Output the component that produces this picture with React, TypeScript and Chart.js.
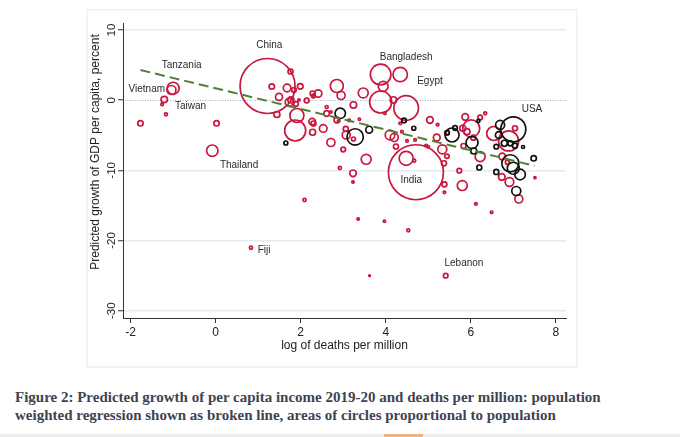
import React, { useEffect, useRef } from "react";
import { Chart, registerables } from "chart.js";

Chart.register(...registerables);

const xTicks = [-2, 0, 2, 4, 6, 8];
const yTicks = [-30, -20, -10, 0, 10];

const xTitle = "log of deaths per million";
const yTitle = "Predicted growth of GDP per capita, percent";
const caption1 = "Figure 2: Predicted growth of per capita income 2019-20 and deaths per million: population";
const caption2 = "weighted regression shown as broken line, areas of circles proportional to population";

// red circles: log deaths per million, predicted growth, population (millions)
const redX = [
  1.22, -1.0, -1.04, -1.21, -1.26, -1.17, -1.77, 0.02, -0.08, 1.32,
  1.76, 1.49, 1.68, 1.99, 1.84, 1.73, 1.77, 1.89, 1.44, 1.91,
  1.87, 2.14, 2.28, 2.41, 2.3, 2.27, 2.3, 2.28, 2.53, 2.71,
  2.61, 2.61, 2.85, 2.95, 2.85, 2.71, 3.06, 3.07, 3.14, 3.0,
  3.24, 3.47, 3.38, 3.54, 2.92, 3.23, 3.23, 3.24, 3.88, 4.34,
  3.94, 3.88, 4.48, 4.18, 3.98, 4.34, 4.1, 4.2, 4.24, 4.38,
  4.5, 4.69, 4.95, 5.04, 5.22, 5.2, 5.33, 5.44, 5.37, 5.0,
  5.87, 5.91, 6.01, 5.81, 6.06, 5.83, 6.22, 6.22, 6.34, 6.54,
  6.89, 7.04, 6.74, 6.86, 6.73, 6.91, 7.13, 7.51, 4.71, 4.48,
  4.67, 2.09, 3.35, 3.97, 4.53, 5.38, 5.38, 5.73, 5.8, 6.12,
  6.49, 5.41, 3.62, 0.83, 5.44, 2.89, 1.96,
];
const redY = [
  2.02, 1.7, 1.45, 0.1, -0.61, -2.01, -3.29, -3.29, -7.2, 1.95,
  4.09, 0.48, 1.74, 1.97, 1.45, -0.3, 0.03, -0.54, -2.04, -2.18,
  -4.32, -0.04, 0.95, 0.95, 0.6, -3.06, -3.32, -4.57, -4.03, -6.03,
  -0.97, -1.9, 2.02, 0.67, -2.82, -1.68, -4.1, -4.96, -2.89, -7.03,
  -0.68, 1.03, -2.72, -8.42, -9.66, -10.42, -11.66, -5.53, 3.66, 3.66,
  1.98, -0.26, -1.11, 0.03, -1.87, -3.29, -4.96, -5.32, -6.6, -4.49,
  -5.81, -5.67, -6.48, -2.82, -3.49, -5.32, -7.0, -7.99, -8.99, -6.63,
  -2.39, -4.49, -4.03, -4.0, -5.34, -6.53, -8.05, -2.47, -1.87, -4.75,
  -5.81, -4.0, -8.02, -8.85, -10.94, -11.66, -14.08, -11.04, -10.27, -8.28,
  -8.62, -14.22, -16.93, -17.26, -18.54, -11.99, -13.13, -10.05, -12.16, -14.79,
  -15.98, -25.01, -25.01, -21.02, -4.65, -2.96, 0.03,
];
const redPop = [
  1400, 67, 37.5, 19, 3.1, 4.2, 13.5, 13.5, 60, 13.5,
  11.6, 22.7, 26.7, 14.5, 9.8, 29.6, 16.7, 9.8, 16.7, 90.7,
  204, 10.7, 11.6, 25.3, 6, 20.2, 11.6, 16.7, 26.7, 29.6,
  4.2, 14.5, 78, 29.6, 14.5, 2.7, 11.6, 29.6, 3.1, 9.8,
  19, 46, 2.7, 46, 4.7, 20.2, 2.7, 7.4, 196, 96,
  46, 224, 280, 19, 3.1, 3.1, 42.6, 29.6, 11.6, 3.1,
  3.1, 3.1, 3.1, 20.2, 3.1, 21.4, 37.5, 9, 11.6, 2.7,
  20.2, 16.7, 134, 16.7, 11.6, 11.6, 46, 9.8, 4.2, 90.7,
  185, 11.6, 20.2, 7.4, 20.2, 34.2, 29.6, 1.9, 1400, 90.7,
  4.2, 4.7, 2.7, 2.7, 4.2, 11.6, 3.1, 9.8, 46, 3.1,
  3.1, 9.8, 1.2, 4.7, 9.8, 2.7, 2.7,
];

// black circles
const blackX = [
  7.0, 6.69, 6.66, 6.6, 6.79, 6.93, 7.04, 7.23, 6.93, 7.0,
  7.16, 7.07, 6.6, 6.2, 7.48, 6.03, 6.07, 6.18, 5.56, 5.63,
  5.45, 4.43, 4.66, 3.61, 3.28, 2.93, 1.65,
];
const blackY = [
  -4.15, -3.53, -4.96, -6.63, -6.14, -6.14, -6.48, -6.67, -8.99, -9.7,
  -10.59, -12.94, -10.23, -9.59, -8.28, -6.03, -7.24, -2.96, -4.96, -3.96,
  -4.63, -2.89, -4.0, -4.2, -5.24, -1.87, -6.1,
];
const blackPop = [
  289, 37.5, 21.4, 9.8, 16.7, 11.6, 11.6, 4.2, 134, 66.6,
  52, 37.5, 11.6, 11.6, 13.5, 66.6, 16.7, 4.2, 90.7, 9.8,
  7.4, 9.8, 7.4, 21.4, 124, 50, 7.4,
];

// population weighted regression (broken line)
const fitX = [-1.77, 7.5];
const fitY = [4.3, -9.35];

// country labels
const labelNames = ["China", "Tanzania", "Vietnam", "Taiwan", "Thailand", "Fiji", "Bangladesh", "Egypt", "USA", "India", "Lebanon"];
const labelX = [1.26, -0.8, -1.62, -0.59, 0.55, 1.14, 4.48, 5.04, 7.44, 4.6, 5.84];
const labelY = [7.86, 5.02, 1.55, -0.83, -9.33, -21.45, 6.11, 2.74, -1.25, -11.4, -23.25];

const SANS = '"Liberation Sans", Arial, sans-serif';
const radiusOf = (pop: number) => 0.735 * Math.sqrt(pop);

const decor = {
  id: "decor",
  beforeDraw(chart: any) {
    const ctx = chart.ctx;
    ctx.save();
    ctx.fillStyle = "#ffffff";
    ctx.fillRect(0, 0, chart.width, chart.height);
    ctx.strokeStyle = "#ebf1f4";
    ctx.lineWidth = 1.5;
    ctx.strokeRect(87, 10, 490, 357);
    ctx.restore();
  },
  beforeDatasetsDraw(chart: any) {
    const ctx = chart.ctx;
    const ca = chart.chartArea;
    const y = chart.scales.y;
    const py = Math.round(y.getPixelForValue(0)) + 0.5;
    ctx.save();
    ctx.strokeStyle = "#9db7c9";
    ctx.lineWidth = 1;
    ctx.setLineDash([1, 1.5]);
    ctx.beginPath();
    ctx.moveTo(ca.left + 2, py);
    ctx.lineTo(ca.right, py);
    ctx.stroke();
    ctx.restore();
  },
  afterDatasetsDraw(chart: any) {
    const ctx = chart.ctx;
    const ca = chart.chartArea;
    const xs = chart.scales.x;
    const ys = chart.scales.y;
    ctx.save();
    // country labels
    ctx.fillStyle = "#2a2a2a";
    ctx.font = `10px ${SANS}`;
    ctx.textAlign = "center";
    ctx.textBaseline = "middle";
    labelNames.forEach((n, i) => {
      ctx.fillText(n, xs.getPixelForValue(labelX[i]), ys.getPixelForValue(labelY[i]));
    });
    // y tick labels (rotated)
    ctx.fillStyle = "#222";
    ctx.font = `11.5px ${SANS}`;
    yTicks.forEach((v) => {
      ctx.save();
      ctx.translate(ca.left - 11.5, ys.getPixelForValue(v));
      ctx.rotate(-Math.PI / 2);
      ctx.fillText(String(v), 0, 0);
      ctx.restore();
    });
    // axis titles
    ctx.font = `12px ${SANS}`;
    ctx.fillText(xTitle, (ca.left + ca.right) / 2, 345.5);
    ctx.save();
    ctx.translate(ca.left - 27, 152);
    ctx.rotate(-Math.PI / 2);
    ctx.fillText(yTitle, 0, 0);
    ctx.restore();
    ctx.restore();
  },
};

export default function App() {
  const ref = useRef<HTMLCanvasElement | null>(null);
  useEffect(() => {
    if (!ref.current) return;
    const chart = new Chart(ref.current, {
      type: "bubble",
      data: {
        datasets: [
          {
            type: "line",
            data: fitX.map((x, i) => ({ x, y: fitY[i] })),
            borderColor: "#4f8134",
            borderWidth: 2,
            borderDash: [10, 5],
            pointRadius: 0,
            fill: false,
          } as any,
          {
            type: "bubble",
            data: blackX.map((x, i) => ({ x, y: blackY[i], r: radiusOf(blackPop[i]) })),
            borderColor: "#111111",
            backgroundColor: "rgba(0,0,0,0)",
            borderWidth: 1.7,
          },
          {
            type: "bubble",
            data: redX.map((x, i) => ({ x, y: redY[i], r: radiusOf(redPop[i]) })),
            borderColor: "#c8173d",
            backgroundColor: "rgba(0,0,0,0)",
            borderWidth: 1.7,
          },
        ],
      },
      options: {
        responsive: false,
        animation: false,
        devicePixelRatio: 1,
        events: [],
        layout: { autoPadding: false, padding: { left: 0, top: 23, right: 114, bottom: 0 } },
        plugins: { legend: { display: false }, tooltip: { enabled: false } },
        scales: {
          x: {
            type: "linear",
            min: -2.18,
            max: 8.24,
            afterBuildTicks: (s: any) => {
              s.ticks = xTicks.map((v) => ({ value: v }));
            },
            afterFit: (s: any) => {
              s.height = 54;
            },
            grid: { drawOnChartArea: false, drawTicks: true, tickLength: 5, tickColor: "#333", tickWidth: 1 },
            border: { display: true, color: "#333", width: 1 },
            ticks: {
              color: "#222",
              font: { family: SANS, size: 12 },
              padding: 2,
              maxRotation: 0,
              autoSkip: false,
              callback: (v: any) => String(v),
            },
          },
          y: {
            type: "linear",
            min: -31.04,
            max: 11.0,
            afterBuildTicks: (s: any) => {
              s.ticks = yTicks.map((v) => ({ value: v }));
            },
            afterFit: (s: any) => {
              s.width = 123;
            },
            grid: {
              color: (c: any) => (c.tick && c.tick.value === 0 ? "rgba(0,0,0,0)" : "#e3ecf0"),
              lineWidth: 1.5,
              drawTicks: true,
              tickLength: 5,
              tickColor: "#333",
              tickWidth: 1,
            },
            border: { display: true, color: "#333", width: 1 },
            ticks: { display: false },
          },
        },
      } as any,
      plugins: [decor],
    });
    return () => chart.destroy();
  }, []);

  return (
    <div style={{ position: "absolute", left: 0, top: 0, width: 680, height: 437, background: "#fff", overflow: "hidden" }}>
      <canvas ref={ref} width={680} height={372} style={{ display: "block" }} />
      <div
        style={{
          position: "absolute",
          left: 15,
          top: 388,
          font: 'bold 15px/18px "Liberation Serif", "Times New Roman", serif',
          color: "#3f4350",
          whiteSpace: "nowrap",
        }}
      >
        {caption1}
        <br />
        {caption2}
      </div>
      <div style={{ position: "absolute", left: 0, top: 434, width: 680, height: 3, background: "#ececec" }} />
      <div style={{ position: "absolute", left: 384, top: 434, width: 39, height: 3, background: "#f3b07a" }} />
    </div>
  );
}
